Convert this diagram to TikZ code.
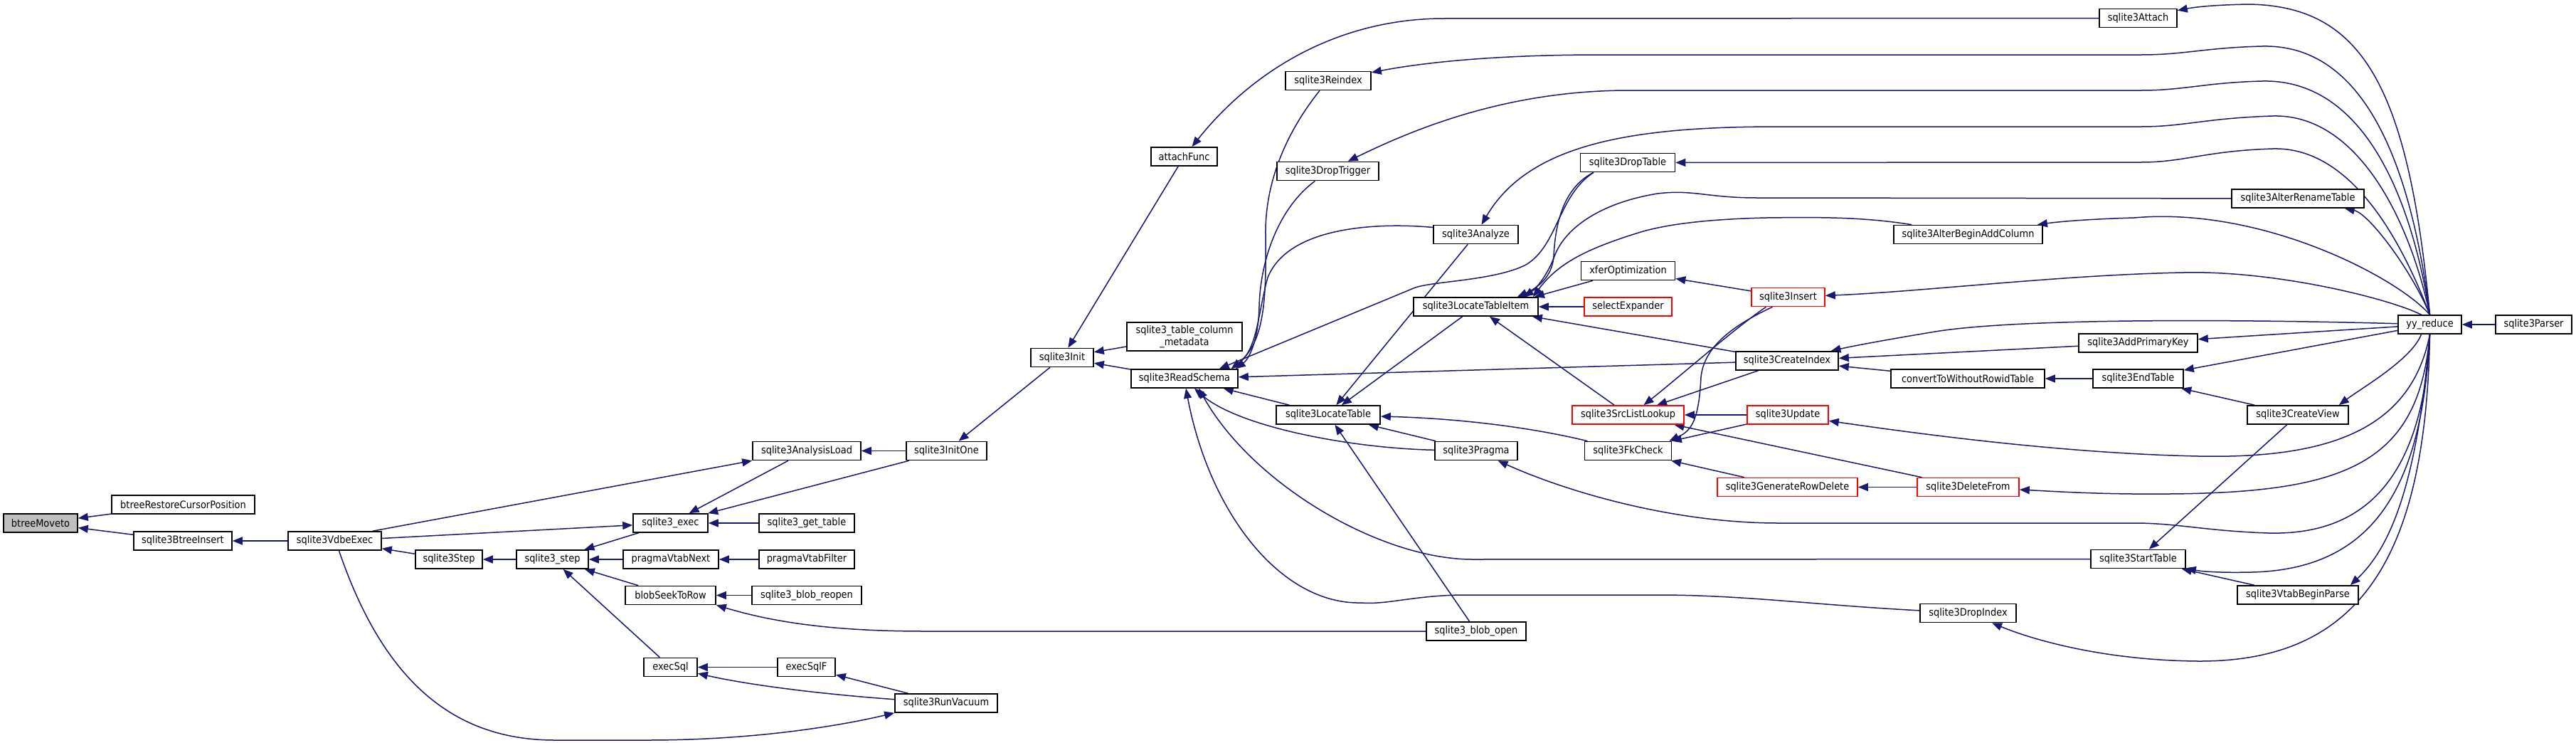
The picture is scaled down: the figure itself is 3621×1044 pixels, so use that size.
\documentclass[tikz,border=0pt]{standalone}
\usepackage{fontspec}
\setmainfont[FakeStretch=0.9]{DejaVu Sans}
\usetikzlibrary{arrows.meta,calc}
\definecolor{edgec}{RGB}{25,25,112}
\definecolor{gfill}{RGB}{191,191,191}
\pgfdeclarelayer{back}
\pgfdeclarelayer{bg}
\pgfsetlayers{back,bg,main}
\begin{document}
\begin{tikzpicture}[x=0.5pt,y=-0.5pt,
 box/.style={draw=black,line width=0.8pt,fill=white,rectangle,inner sep=0pt,minimum height=13pt,font=\fontsize{7.2}{8.6}\selectfont},
 redbox/.style={box,draw=red},
 graybox/.style={box,fill=gfill},
 e/.style={draw=edgec,line width=0.75pt,-{Triangle[length=7pt,width=5.5pt]}}]
\begin{pgfonlayer}{back}
\fill[white] (0,0) rectangle (3621,1044);
\end{pgfonlayer}
\useasboundingbox (0,0) rectangle (3621,1044);
% nodes
\node[graybox,minimum width=52pt] (bm) at (57,735) {btreeMoveto};
\node[box,minimum width=100.5pt] (rcp) at (257.5,709) {btreeRestoreCursorPosition};
\node[box,minimum width=69pt] (bi) at (257,760) {sqlite3BtreeInsert};
\node[box,minimum width=65.5pt] (vdbe) at (470.5,760) {sqlite3VdbeExec};
\node[box,minimum width=47pt] (step) at (631,786) {sqlite3Step};
\node[box,minimum width=50.5pt] (ustep) at (776.5,786) {sqlite3\_step};
\node[box,minimum width=52.5pt] (exec) at (942.5,735) {sqlite3\_exec};
\node[box,minimum width=67pt] (pvn) at (943,786) {pragmaVtabNext};
\node[box,minimum width=63.5pt] (bstr) at (942.5,836.5) {blobSeekToRow};
\node[box,minimum width=37.5pt] (esql) at (942.5,937.5) {execSql};
\node[box,minimum width=76pt] (al) at (1134,633.5) {sqlite3AnalysisLoad};
\node[box,minimum width=67pt] (gt) at (1134,735) {sqlite3\_get\_table};
\node[box,minimum width=67pt] (pvf) at (1134,786) {pragmaVtabFilter};
\node[box,minimum width=77pt] (bre) at (1134,836.5) {sqlite3\_blob\_reopen};
\node[box,minimum width=40.5pt] (esqlf) at (1133.5,937.5) {execSqlF};
\node[box,minimum width=72pt] (rv) at (1330,988) {sqlite3RunVacuum};
\node[box,minimum width=56.5pt] (io) at (1330.5,633.5) {sqlite3InitOne};
\node[box,minimum width=44pt] (init) at (1493,502.5) {sqlite3Init};
\node[box,minimum width=46.5pt] (af) at (1664.5,220) {attachFunc};
\node[box,minimum width=81pt,minimum height=20pt,align=center] (tcm) at (1665,473) {sqlite3\_table\_column\\\_metadata};
\node[box,minimum width=75pt] (rs) at (1665,532) {sqlite3ReadSchema};
\node[box,minimum width=60pt] (ri) at (1867,113.5) {sqlite3Reindex};
\node[box,minimum width=71.5pt] (dtr) at (1866.5,240.5) {sqlite3DropTrigger};
\node[box,minimum width=73pt] (lt) at (1867,583) {sqlite3LocateTable};
\node[box,minimum width=59.5pt] (an) at (2074.5,329.5) {sqlite3Analyze};
\node[box,minimum width=87.5pt] (lti) at (2074.5,431) {sqlite3LocateTableItem};
\node[box,minimum width=58pt] (pr) at (2075,633.5) {sqlite3Pragma};
\node[box,minimum width=70pt] (bo) at (2075,887) {sqlite3\_blob\_open};
\node[box,minimum width=66.5pt] (dt) at (2288,228.5) {sqlite3DropTable};
\node[box,minimum width=66pt] (xo) at (2288.5,380.5) {xferOptimization};
\node[redbox,minimum width=61.5pt] (se) at (2288.5,431) {selectExpander};
\node[redbox,minimum width=78.5pt] (sll) at (2288.5,583) {sqlite3SrcListLookup};
\node[box,minimum width=61pt] (fk) at (2288.5,633.5) {sqlite3FkCheck};
\node[redbox,minimum width=51.5pt] (ins) at (2513.5,417.5) {sqlite3Insert};
\node[box,minimum width=72pt] (ci) at (2512,507) {sqlite3CreateIndex};
\node[redbox,minimum width=57pt] (upd) at (2513,583) {sqlite3Update};
\node[redbox,minimum width=98.5pt] (grd) at (2512.5,684.5) {sqlite3GenerateRowDelete};
\node[box,minimum width=104.5pt] (abac) at (2766.5,329.5) {sqlite3AlterBeginAddColumn};
\node[box,minimum width=108pt] (cwr) at (2766,532) {convertToWithoutRowidTable};
\node[redbox,minimum width=71.5pt] (df) at (2766.5,684.5) {sqlite3DeleteFrom};
\node[box,minimum width=67.5pt] (di) at (2766.5,861.5) {sqlite3DropIndex};
\node[box,minimum width=54.5pt] (att) at (3005.5,25.5) {sqlite3Attach};
\node[box,minimum width=83.5pt] (apk) at (3005.5,482) {sqlite3AddPrimaryKey};
\node[box,minimum width=63.5pt] (et) at (3005.5,532) {sqlite3EndTable};
\node[box,minimum width=66.5pt] (st) at (3005.5,785.5) {sqlite3StartTable};
\node[box,minimum width=93pt] (art) at (3230,279) {sqlite3AlterRenameTable};
\node[box,minimum width=71pt] (cv) at (3230,583) {sqlite3CreateView};
\node[box,minimum width=85pt] (vbp) at (3230,836) {sqlite3VtabBeginParse};
\node[box,minimum width=44.5pt] (yy) at (3415.5,456) {yy\_reduce};
\node[box,minimum width=53.5pt] (par) at (3561.5,456) {sqlite3Parser};
% helper coordinates
\coordinate (rsT1) at ([xshift=-13.5pt]rs.north east);
\coordinate (rsT2) at ([xshift=-5pt]rs.north east);
\coordinate (rsT3) at ([xshift=-2pt]rs.north east);
\coordinate (rsB1) at ([xshift=7pt]rs.south);
\coordinate (rsB2) at ([xshift=10pt]rs.south);
\coordinate (rsB3) at ([xshift=1pt]rs.south);
\coordinate (ltiA) at ([xshift=-3pt]lti.north east);
\coordinate (ltiAB) at ([xshift=-4pt]lti.north east);
\coordinate (ltiB) at ([xshift=-10.5pt]lti.north east);
\coordinate (ltiC) at ([xshift=-15pt]lti.north east);
\coordinate (dtB) at ([xshift=-24pt]dt.south);
\begin{pgfonlayer}{bg}
% left part
\draw[e] (rcp) -- (bm);
\draw[e] (bi) -- (bm);
\draw[e] (vdbe) -- (bi);
\draw[e] (step) -- (vdbe);
\draw[e] ([xshift=-6.5pt]vdbe.north east) -- (al.south west);
\draw[e] (vdbe) -- (exec);
\draw[e] ([xshift=3pt]vdbe.south) .. controls (540,960) and (640,1040) .. (780,1040) -- (910,1040) .. controls (1060,1040) and (1180,1020) .. (rv.south west);
\draw[e] (ustep) -- (step);
\draw[e] (exec) -- (ustep);
\draw[e] (pvn) -- (ustep);
\draw[e] (bstr) -- (ustep);
\draw[e] (esql) -- (ustep);
\draw[e] (pvf) -- (pvn);
\draw[e] (bre) -- (bstr);
\draw[e] (bo) -- (1300,887) .. controls (1160,887) and (1080,872) .. (bstr.south east);
\draw[e] (esqlf) -- (esql);
\draw[e] (rv) .. controls (1150,975) and (1050,962) .. (esql);
\draw[e] (rv) -- (esqlf);
\draw[e] (al) -- (exec);
\draw[e] (io) -- (exec);
\draw[e] (gt) -- (exec);
\draw[e] (io) -- (al);
\draw[e] (init) -- (io);
\draw[e] (af) -- (init);
\draw[e] (tcm) -- (init);
\draw[e] (rs) -- (init);
\draw[e] (att) -- (2030,26) .. controls (1880,26) and (1760,100) .. (af);
% yy_reduce fan
\draw[e] (yy.north) .. controls (3385,120) and (3320,8) .. (3160,6) .. controls (3110,7) and (3085,10) .. (att);
\draw[e] (yy.north) .. controls (3385,200) and (3310,62) .. (3180,65) .. controls (3100,67) and (3070,77) .. (3010,77) -- (2250,77) .. controls (2100,77) and (2000,88) .. (ri);
\draw[e] (yy.north) .. controls (3385,250) and (3310,111) .. (3180,114) .. controls (3100,116) and (3070,127) .. (3010,127) -- (2290,127) .. controls (2120,127) and (1990,180) .. (dtr);
\draw[e] (yy.north) .. controls (3385,300) and (3310,160) .. (3195,163) .. controls (3100,166) and (3070,178) .. (3010,178) -- (2500,178) .. controls (2300,178) and (2150,200) .. (an);
\draw[e] (yy.north) .. controls (3380,350) and (3310,206) .. (3195,209) .. controls (3100,212) and (3070,228) .. (3010,228) -- (dt);
\draw[e] (yy.north) .. controls (3390,380) and (3330,300) .. (art);
\draw[e] (yy.north) .. controls (3370,390) and (3180,290) .. (3000,306) .. controls (2930,308) and (2890,312) .. (abac);
\draw[e] ([xshift=-6pt]yy.north) .. controls (3360,420) and (3200,380) .. (3070,383) .. controls (2900,386) and (2700,410) .. (ins);
\draw[e] (yy) .. controls (3200,450) and (2850,445) .. (2720,466) .. controls (2660,476) and (2610,485) .. (ci);
\draw[e] (yy) -- (apk);
\draw[e] (yy) -- (et);
\draw[e] ([xshift=-6pt]yy.south) .. controls (3390,505) and (3320,545) .. ([xshift=-7pt]cv.north east);
\draw[e] (yy.south) .. controls (3390,600) and (3280,645) .. (3090,641) .. controls (2900,637) and (2700,610) .. (upd);
\draw[e] (yy.south) .. controls (3400,650) and (3300,692) .. (3050,694) .. controls (2950,695) and (2880,690) .. (df);
\draw[e] (yy.south) .. controls (3405,700) and (3300,752) .. (3188,749) .. controls (3100,746) and (3060,735) .. (3000,735) -- (2500,735) .. controls (2350,735) and (2200,690) .. (pr);
\draw[e] (yy.south) .. controls (3405,680) and (3340,800) .. (3165,804) .. controls (3120,805) and (3095,803) .. (st);
\draw[e] (yy.south) .. controls (3400,650) and (3370,760) .. ([xshift=-6pt]vbp.north east);
\draw[e] (yy.south) .. controls (3410,780) and (3320,930) .. (3090,929) .. controls (2960,928) and (2860,900) .. (di);
\draw[e] (par) -- (yy);
% middle part
\draw[e] (art) -- (2470,278) .. controls (2400,278) and (2380,266) .. (2330,272) .. controls (2250,285) and (2200,320) .. (2185,360) .. controls (2176,385) and (2160,405) .. (ltiB);
\draw[e] ([xshift=13pt]abac.north west) .. controls (2620,305) and (2560,305) .. (2483,306) .. controls (2400,308) and (2340,315) .. (2300,328) .. controls (2230,350) and (2190,370) .. (ltiAB);
\draw[e] (dtB) .. controls (2195,265) and (2186,320) .. (2184,360) .. controls (2182,390) and (2160,405) .. (ltiC);
\draw[e] (dtB) .. controls (2190,275) and (2190,345) .. (2145,372) .. controls (2100,395) and (2010,395) .. (1987,405) -- (rsT1);
\draw[e] ([xshift=-6pt]ri.south) .. controls (1805,190) and (1778,260) .. (1779,330) .. controls (1780,420) and (1778,480) .. (rsT2);
\draw[e] ([xshift=-9pt]dtr.south) .. controls (1800,290) and (1772,360) .. (1770,430) .. controls (1769,480) and (1755,505) .. (rsT3);
\draw[e] ([yshift=5pt]an.west) .. controls (1930,312) and (1810,320) .. (1782,390) .. controls (1768,440) and (1768,490) .. (rsT2);
\draw[e] (lt) -- (rs);
\draw[e] (pr) .. controls (1900,630) and (1740,600) .. (rsB1);
\draw[e] (st) -- (2070,786) .. controls (1940,786) and (1760,680) .. (rsB2);
\draw[e] (di) .. controls (2550,850) and (2450,836) .. (2330,836) -- (2060,836) .. controls (1990,836) and (1950,850) .. (1914,847) .. controls (1800,850) and (1700,720) .. (rsB3);
\draw[e] (ci) -- (rs);
\draw[e] (lti) -- (lt);
\draw[e] (an) -- (lt);
\draw[e] (pr) -- (lt);
\draw[e] (fk) .. controls (2150,600) and (2050,588) .. (lt);
\draw[e] (bo) -- (lt);
\draw[e] (xo) -- (ltiA);
\draw[e] (se) -- (lti);
\draw[e] (ci) -- (lti);
\draw[e] (sll) -- (lti);
\draw[e] (upd) -- (sll);
\draw[e] (df) -- (sll);
\draw[e] (ci) -- (sll);
\draw[e] ([xshift=-15.5pt]ins.south) .. controls (2440,460) and (2360,530) .. ([xshift=11pt]sll.north);
\draw[e] ([xshift=-11pt]ins.south) .. controls (2430,460) and (2395,490) .. (2391,530) .. controls (2388,590) and (2378,605) .. ([xshift=-2pt]fk.north east);
\draw[e] (upd) -- (fk);
\draw[e] (grd) -- (fk);
\draw[e] (df) -- (grd);
\draw[e] (ins) -- (xo);
\draw[e] (apk) -- (ci);
\draw[e] (cwr) -- (ci);
\draw[e] (et) -- (cwr);
\draw[e] (cv) -- (et);
\draw[e] (cv) -- (st);
\draw[e] (vbp) -- (st);
\end{pgfonlayer}
\end{tikzpicture}
\end{document}
